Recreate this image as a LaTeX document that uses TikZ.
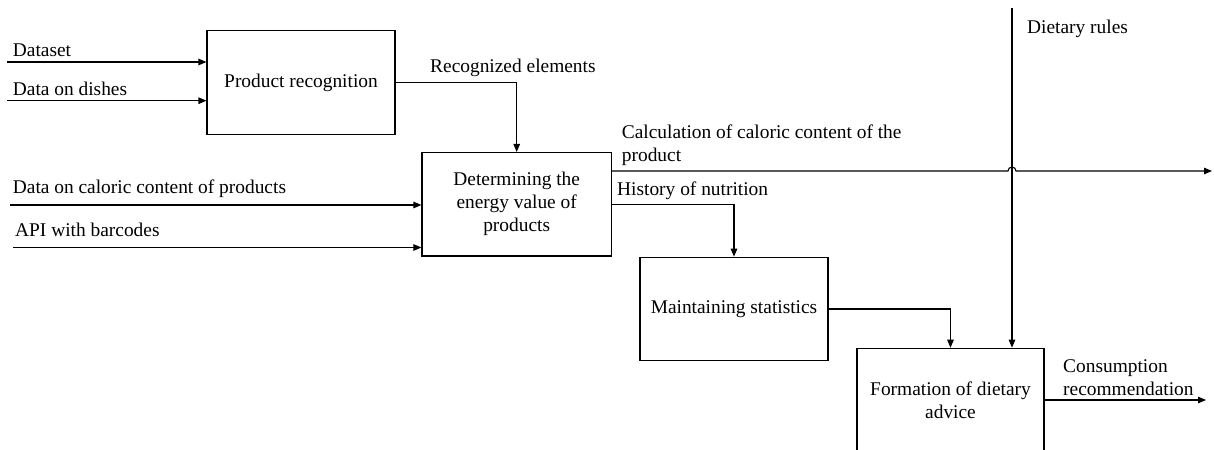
\documentclass[tikz,border=0pt]{standalone}
\usepackage{fontspec}
\setmainfont{Liberation Serif}
\usetikzlibrary{arrows.meta}
\begin{document}
\begin{tikzpicture}[x=1bp,y=-1bp,
  every node/.style={font=\fontsize{19.4bp}{23bp}\selectfont, text=black},
  box/.style={draw, line width=1.1bp, inner sep=0pt, align=center, minimum height=103.5bp},
  conn/.style={draw, line width=1.1bp, -{Triangle[length=8bp,width=6.5bp]}},
  lbl/.style={inner sep=0pt, anchor=base west},
  lbltop/.style={inner sep=0pt, anchor=north west, align=left}]
\useasboundingbox (0,0) rectangle (1214,450);
\clip (0,0) rectangle (1214,450);

% function blocks
\node[box, minimum width=188bp]   (pr)  at (301,82.5)   {Product recognition};
\node[box, minimum width=189.5bp] (dev) at (516.7,204.3) {Determining the\\energy value of\\products};
\node[box, minimum width=188bp]   (ms)  at (734,309)    {Maintaining statistics};
\node[box, minimum width=187bp]   (fda) at (950.5,400)  {Formation of dietary\\advice};

% free ends of the inputs and outputs
\coordinate (ds)  at (7,62);
\coordinate (dd)  at (7,100.7);
\coordinate (cal) at (10,205);
\coordinate (api) at (13,247.5);
\coordinate (calcend) at (1212,171);
\coordinate (hopl) at (1008,171);
\coordinate (dr)  at (1012,8);
\coordinate (recend) at (1206,400);

% inputs
\draw[conn] (ds)  -- (ds -| pr.west);
\draw[conn] (dd)  -- (dd -| pr.west);
\draw[conn] (cal) -- (cal -| dev.west);
\draw[conn] (api) -- (api -| dev.west);

% links between blocks
\draw[conn] (pr.east) -| (dev.north);
\draw[conn] (dev.east) -| (ms.north);
\draw[conn] (ms.east) -| (fda.north);

% output crossing the control line with a hop
\draw[conn] (dev.east |- calcend) -- (hopl) arc[start angle=180, end angle=360, radius=4] -- (calcend);

% control and final output
\draw[conn] (dr) -- (dr |- fda.north);
\draw[conn] (fda.east) -- (recend);

% arrow labels
\node[lbl] (tds)  at (12.7,56.7) {Dataset};
\node[lbl] (tdd)  at (12.7,96)   {Data on dishes};
\node[lbl] (tcal) at (12.7,194)  {Data on caloric content of products};
\node[lbl] (tapi) at (15,237)    {API with barcodes};
\node[lbl] (trec) at (430,73)    {Recognized elements};
\node[lbltop] (tcalc) at (621.7,124.8) {Calculation of caloric content of the\\product};
\node[lbl] (this) at (617,196)   {History of nutrition};
\node[lbl] (tdr)  at (1027,34)   {Dietary rules};
\node[lbltop] (tcon) at (1063,359.8) {Consumption\\recommendation};
\end{tikzpicture}
\end{document}
